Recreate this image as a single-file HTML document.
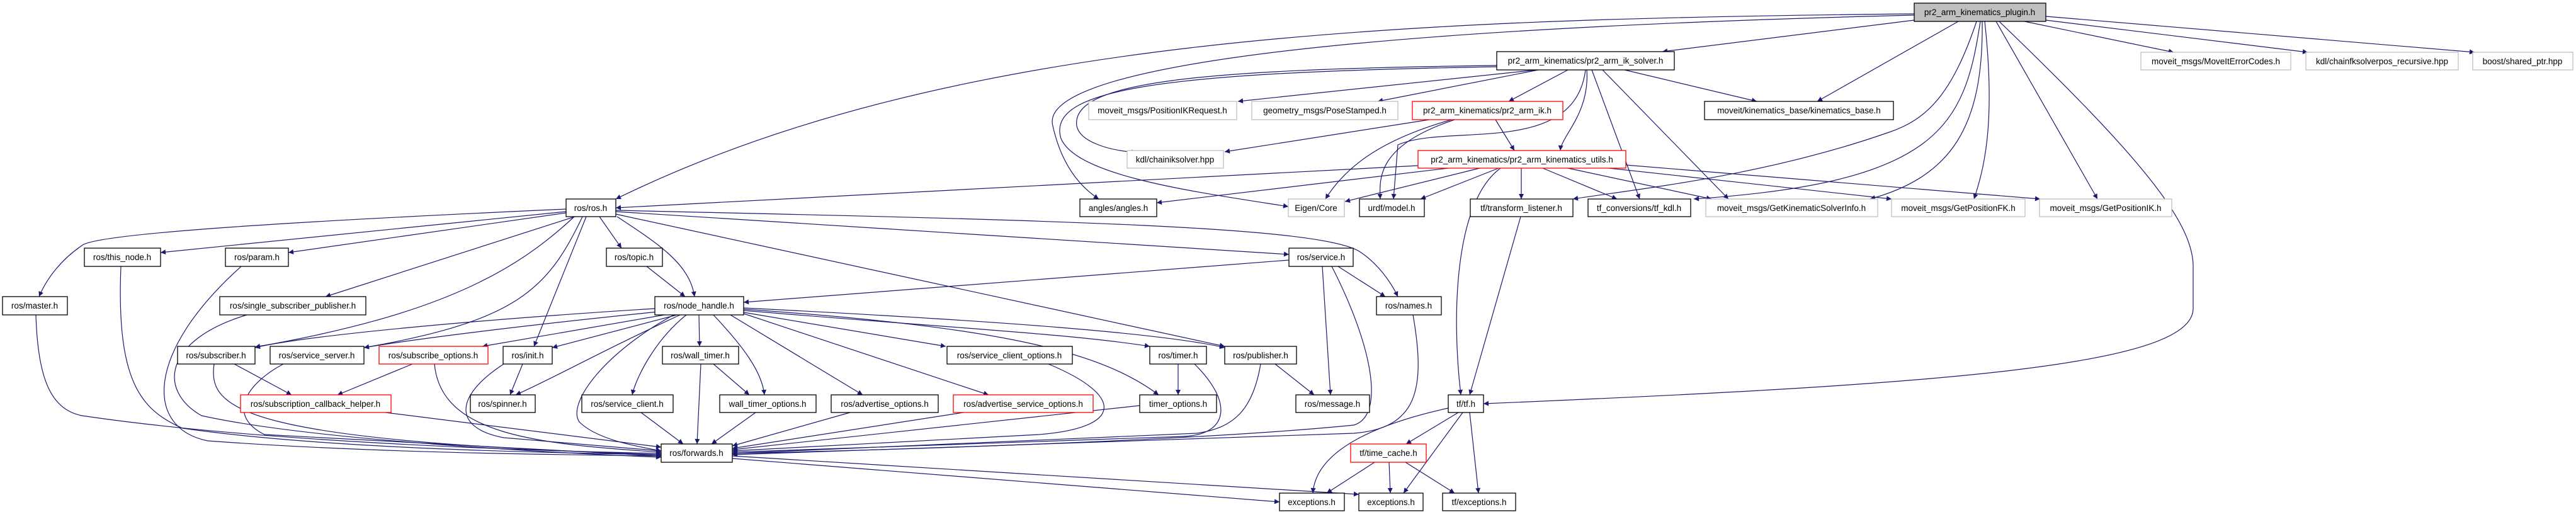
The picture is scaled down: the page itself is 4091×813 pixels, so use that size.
<!DOCTYPE html>
<html><head><meta charset="utf-8"><style>
html,body{margin:0;padding:0;background:#fff;}
svg{display:block;}
text{font-family:"Liberation Sans",sans-serif;font-size:13.5px;text-anchor:middle;fill:#000;}
.e{fill:none;stroke:#191970;stroke-width:1.2;marker-end:url(#a);}
.n{fill:#fff;stroke:#000;stroke-width:1.3;}
.g{fill:#fff;stroke:#bfbfbf;stroke-width:1.3;}
.r{fill:#fff;stroke:#ff0000;stroke-width:1.3;}
</style></head><body>
<svg width="4091" height="813" viewBox="0 0 4091 813" xmlns="http://www.w3.org/2000/svg">
<defs><marker id="a" viewBox="0 0 10 10" refX="10" refY="5" markerWidth="10" markerHeight="8" markerUnits="userSpaceOnUse" orient="auto"><path d="M0,0 L10,5 L0,10 z" fill="#191970"/></marker></defs>
<g>
<path class="e" d="M3040,22 C2200,30 1500,60 978,316"/>
<path class="e" d="M3040,24 C2000,50 1650,120 1672,200 Q1690,280 1745,316"/>
<path class="e" d="M3040,32 L2640,82"/>
<path class="e" d="M3110,34 L2886,161"/>
<path class="e" d="M3139,34 C3100,150 3060,190 3000,210 C2800,280 2600,300 2498,316"/>
<path class="e" d="M3145,34 C3120,200 3080,290 2690,316"/>
<path class="e" d="M3148,34 C3150,200 3100,280 2970,316"/>
<path class="e" d="M3152,34 C3170,200 3150,270 3135,316"/>
<path class="e" d="M3170,34 L3331,316"/>
<path class="e" d="M3215,34 L3452,83"/>
<path class="e" d="M3249,32 L3665,83"/>
<path class="e" d="M3249,26 L3930,83"/>
<path class="e" d="M3175,34 C3400,250 3480,350 3483,420 L3483,490 C3483,580 3100,610 2356,641"/>
<path class="e" d="M2440,111 L1966,161"/>
<path class="e" d="M2443,111 L2188,161"/>
<path class="e" d="M2490,111 L2396,161"/>
<path class="e" d="M2580,111 L2790,161"/>
<path class="e" d="M2377,104 C1900,110 1700,130 1710,200 C1715,225 1760,239 1805,242"/>
<path class="e" d="M2377,106 C1850,115 1660,140 1685,220 C1710,280 1900,305 2046,328"/>
<path class="e" d="M2520,111 C2525,180 2480,215 2478,239"/>
<path class="e" d="M2518,111 C2500,250 2300,195 2220,230 L2213,316"/>
<path class="e" d="M2528,111 L2604,316"/>
<path class="e" d="M2545,111 L2745,316"/>
<path class="e" d="M2270,190 L1945,241"/>
<path class="e" d="M2375,190 L2405,239"/>
<path class="e" d="M2305,190 C2200,220 2140,260 2105,316"/>
<path class="e" d="M2310,190 C2190,230 2190,280 2192,316"/>
<path class="e" d="M2252,263 L978,330"/>
<path class="e" d="M2300,267 L1837,322"/>
<path class="e" d="M2350,267 L2136,320"/>
<path class="e" d="M2380,267 L2256,316"/>
<path class="e" d="M2416,267 L2416,316"/>
<path class="e" d="M2450,267 L2568,316"/>
<path class="e" d="M2490,267 L2718,316"/>
<path class="e" d="M2555,267 L3004,316"/>
<path class="e" d="M2582,262 L3240,316"/>
<path class="e" d="M2383,267 C2310,320 2305,500 2320,627"/>
<path class="e" d="M2415,344 L2334,627"/>
<path class="e" d="M899,336 L255,401"/>
<path class="e" d="M899,338 L458,401"/>
<path class="e" d="M899,332 C500,350 150,370 130,390 C100,410 75,440 62,471"/>
<path class="e" d="M913,344 L517,471"/>
<path class="e" d="M912,344 C820,430 700,500 405,551"/>
<path class="e" d="M925,344 C870,460 820,510 578,552"/>
<path class="e" d="M931,344 L848,550"/>
<path class="e" d="M952,344 L987,394"/>
<path class="e" d="M980,344 C1050,390 1095,420 1103,471"/>
<path class="e" d="M978,336 L2047,404"/>
<path class="e" d="M978,334 C1700,350 2100,360 2160,400 C2190,420 2210,450 2220,471"/>
<path class="e" d="M978,340 L1945,550"/>
<path class="e" d="M1027,423 L1088,471"/>
<path class="e" d="M2047,413 L1181,480"/>
<path class="e" d="M2125,423 L2200,471"/>
<path class="e" d="M2100,423 L2113,627"/>
<path class="e" d="M2115,423 C2180,550 2200,660 2150,675 C1900,700 1400,715 1163,720"/>
<path class="e" d="M2244,500 C2265,620 2250,680 2150,688 L1163,722"/>
<path class="e" d="M1040,490 C800,505 500,530 405,552"/>
<path class="e" d="M1045,495 C800,520 650,540 578,552"/>
<path class="e" d="M1055,500 L766,550"/>
<path class="e" d="M1075,500 L877,552"/>
<path class="e" d="M1080,500 C950,560 880,600 819,627"/>
<path class="e" d="M1070,500 C960,560 900,640 920,670 C950,700 1020,710 1050,716"/>
<path class="e" d="M1090,500 C1040,540 1010,600 1004,627"/>
<path class="e" d="M1110,500 L1111,550"/>
<path class="e" d="M1133,500 C1180,550 1210,590 1214,627"/>
<path class="e" d="M1160,500 L1370,627"/>
<path class="e" d="M1181,498 L1570,627"/>
<path class="e" d="M1181,496 L1502,550"/>
<path class="e" d="M1181,493 C1500,520 1700,530 1826,550"/>
<path class="e" d="M1181,491 C1600,520 1750,560 1840,627"/>
<path class="e" d="M1181,489 C1600,510 1850,530 1945,552"/>
<path class="e" d="M372,578 L463,627"/>
<path class="e" d="M340,578 C330,650 380,700 1050,722"/>
<path class="e" d="M450,578 C390,610 360,660 420,690 L1050,724"/>
<path class="e" d="M655,578 L536,627"/>
<path class="e" d="M690,578 C700,690 850,705 1050,718"/>
<path class="e" d="M830,578 L810,627"/>
<path class="e" d="M800,578 C720,630 720,680 800,695 L1050,716"/>
<path class="e" d="M1133,578 L1190,627"/>
<path class="e" d="M1113,578 L1107,705"/>
<path class="e" d="M612,655 L1050,710"/>
<path class="e" d="M1018,655 L1085,705"/>
<path class="e" d="M1200,655 L1130,705"/>
<path class="e" d="M1350,655 L1163,708"/>
<path class="e" d="M1530,655 L1163,712"/>
<path class="e" d="M1810,644 L1163,714"/>
<path class="e" d="M1665,578 C1790,630 1780,680 1650,690 L1163,716"/>
<path class="e" d="M1871,578 L1871,627"/>
<path class="e" d="M1897,578 C1960,640 1950,690 1880,693 L1163,718"/>
<path class="e" d="M2025,578 L2087,627"/>
<path class="e" d="M2002,578 C1990,650 1960,680 1900,688 L1163,720"/>
<path class="e" d="M57,500 C60,600 80,650 130,660 C400,700 800,715 1050,720"/>
<path class="e" d="M192,423 C185,600 220,650 290,680 C500,710 800,718 1050,722"/>
<path class="e" d="M383,423 C230,560 230,680 330,700 C600,720 900,722 1050,724"/>
<path class="e" d="M392,500 C260,540 250,620 320,660 C500,700 900,720 1050,726"/>
<path class="e" d="M1163,728 L2032,797"/>
<path class="e" d="M1163,724 L2158,785"/>
<path class="e" d="M2316,655 L2233,705"/>
<path class="e" d="M2300,648 C2200,670 2090,710 2085,783"/>
<path class="e" d="M2323,655 L2229,783"/>
<path class="e" d="M2334,655 L2348,783"/>
<path class="e" d="M2183,734 L2107,783"/>
<path class="e" d="M2206,734 L2208,783"/>
<path class="e" d="M2232,734 L2310,783"/>
</g>
<g>
<rect x="3040" y="5" width="209" height="29" fill="#bfbfbf" stroke="#000" stroke-width="1.3"/><text x="3144" y="24">pr2_arm_kinematics_plugin.h</text>
<rect class="n" x="2377" y="82" width="282" height="29"/><text x="2518" y="101">pr2_arm_kinematics/pr2_arm_ik_solver.h</text>
<rect class="g" x="3400" y="83" width="238" height="28"/><text x="3519" y="102">moveit_msgs/MoveItErrorCodes.h</text>
<rect class="g" x="3662" y="83" width="242" height="28"/><text x="3783" y="102">kdl/chainfksolverpos_recursive.hpp</text>
<rect class="g" x="3927" y="83" width="159" height="28"/><text x="4006" y="102">boost/shared_ptr.hpp</text>
<rect class="g" x="1729" y="161" width="235" height="29"/><text x="1846" y="180">moveit_msgs/PositionIKRequest.h</text>
<rect class="g" x="1988" y="161" width="232" height="29"/><text x="2104" y="180">geometry_msgs/PoseStamped.h</text>
<rect class="r" x="2243" y="161" width="239" height="29"/><text x="2362" y="180">pr2_arm_kinematics/pr2_arm_ik.h</text>
<rect class="n" x="2707" y="161" width="300" height="29"/><text x="2857" y="180">moveit/kinematics_base/kinematics_base.h</text>
<rect class="g" x="1790" y="239" width="153" height="28"/><text x="1866" y="258">kdl/chainiksolver.hpp</text>
<rect class="r" x="2252" y="239" width="330" height="28"/><text x="2417" y="258">pr2_arm_kinematics/pr2_arm_kinematics_utils.h</text>
<rect class="n" x="899" y="316" width="79" height="28"/><text x="938" y="335">ros/ros.h</text>
<rect class="n" x="1715" y="316" width="122" height="28"/><text x="1776" y="335">angles/angles.h</text>
<rect class="g" x="2046" y="316" width="89" height="28"/><text x="2090" y="335">Eigen/Core</text>
<rect class="n" x="2159" y="316" width="103" height="28"/><text x="2210" y="335">urdf/model.h</text>
<rect class="n" x="2335" y="316" width="163" height="28"/><text x="2416" y="335">tf/transform_listener.h</text>
<rect class="n" x="2522" y="316" width="163" height="28"/><text x="2603" y="335">tf_conversions/tf_kdl.h</text>
<rect class="g" x="2709" y="316" width="273" height="28"/><text x="2845" y="335">moveit_msgs/GetKinematicSolverInfo.h</text>
<rect class="g" x="3004" y="316" width="212" height="28"/><text x="3110" y="335">moveit_msgs/GetPositionFK.h</text>
<rect class="g" x="3239" y="316" width="210" height="28"/><text x="3344" y="335">moveit_msgs/GetPositionIK.h</text>
<rect class="n" x="134" y="394" width="121" height="29"/><text x="194" y="413">ros/this_node.h</text>
<rect class="n" x="358" y="394" width="100" height="29"/><text x="408" y="413">ros/param.h</text>
<rect class="n" x="963" y="394" width="89" height="29"/><text x="1007" y="413">ros/topic.h</text>
<rect class="n" x="2047" y="394" width="102" height="29"/><text x="2098" y="413">ros/service.h</text>
<rect class="n" x="4" y="471" width="103" height="29"/><text x="55" y="490">ros/master.h</text>
<rect class="n" x="349" y="471" width="232" height="29"/><text x="465" y="490">ros/single_subscriber_publisher.h</text>
<rect class="n" x="1040" y="471" width="141" height="29"/><text x="1110" y="490">ros/node_handle.h</text>
<rect class="n" x="2186" y="471" width="103" height="29"/><text x="2237" y="490">ros/names.h</text>
<rect class="n" x="282" y="550" width="123" height="28"/><text x="343" y="569">ros/subscriber.h</text>
<rect class="n" x="429" y="550" width="149" height="28"/><text x="503" y="569">ros/service_server.h</text>
<rect class="r" x="602" y="550" width="173" height="28"/><text x="688" y="569">ros/subscribe_options.h</text>
<rect class="n" x="799" y="550" width="78" height="28"/><text x="838" y="569">ros/init.h</text>
<rect class="n" x="1052" y="550" width="121" height="28"/><text x="1112" y="569">ros/wall_timer.h</text>
<rect class="n" x="1504" y="550" width="199" height="28"/><text x="1603" y="569">ros/service_client_options.h</text>
<rect class="n" x="1826" y="550" width="90" height="28"/><text x="1871" y="569">ros/timer.h</text>
<rect class="n" x="1945" y="550" width="114" height="28"/><text x="2002" y="569">ros/publisher.h</text>
<rect class="r" x="382" y="627" width="239" height="28"/><text x="501" y="646">ros/subscription_callback_helper.h</text>
<rect class="n" x="747" y="627" width="103" height="28"/><text x="798" y="646">ros/spinner.h</text>
<rect class="n" x="924" y="627" width="145" height="28"/><text x="996" y="646">ros/service_client.h</text>
<rect class="n" x="1143" y="627" width="153" height="28"/><text x="1219" y="646">wall_timer_options.h</text>
<rect class="n" x="1320" y="627" width="170" height="28"/><text x="1405" y="646">ros/advertise_options.h</text>
<rect class="r" x="1514" y="627" width="222" height="28"/><text x="1625" y="646">ros/advertise_service_options.h</text>
<rect class="n" x="1810" y="627" width="122" height="28"/><text x="1871" y="646">timer_options.h</text>
<rect class="n" x="2058" y="627" width="117" height="28"/><text x="2116" y="646">ros/message.h</text>
<rect class="n" x="2300" y="627" width="56" height="28"/><text x="2328" y="646">tf/tf.h</text>
<rect class="n" x="1050" y="705" width="113" height="29"/><text x="1106" y="724">ros/forwards.h</text>
<rect class="r" x="2145" y="705" width="120" height="29"/><text x="2205" y="724">tf/time_cache.h</text>
<rect class="n" x="2032" y="783" width="103" height="28"/><text x="2083" y="802">exceptions.h</text>
<rect class="n" x="2158" y="783" width="102" height="28"/><text x="2209" y="802">exceptions.h</text>
<rect class="n" x="2291" y="783" width="116" height="28"/><text x="2349" y="802">tf/exceptions.h</text>
</g>
</svg>
</body></html>
